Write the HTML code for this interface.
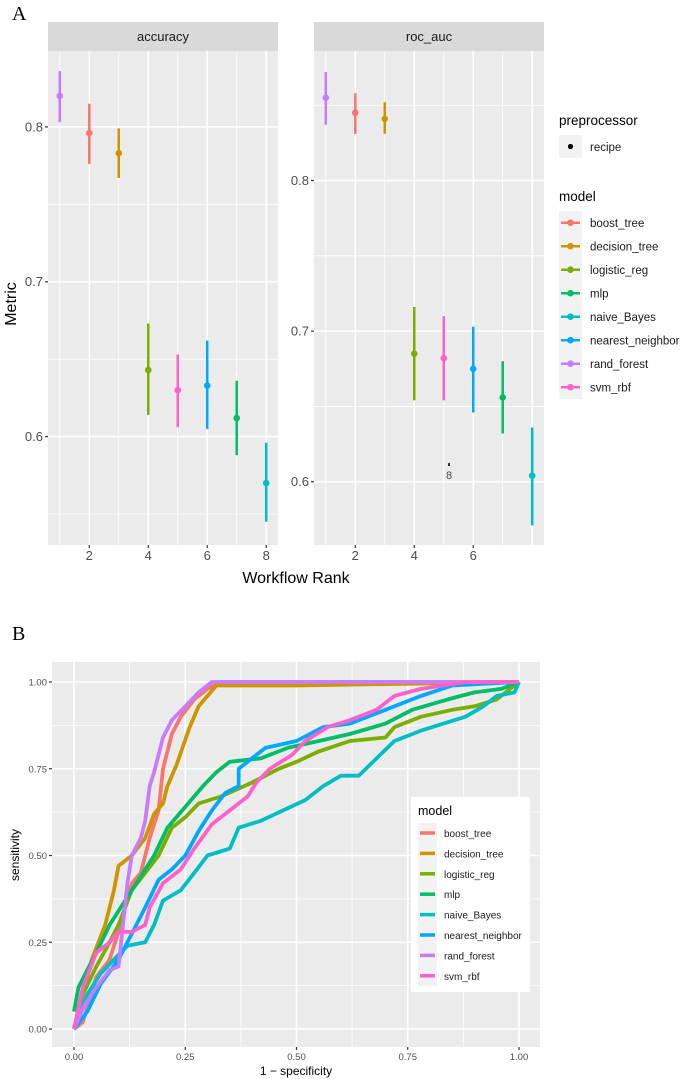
<!DOCTYPE html>
<html><head><meta charset="utf-8"><style>
body{margin:0;background:#fff;}
svg{display:block;font-family:"Liberation Sans",sans-serif;}
</style></head><body>
<svg id="s" width="685" height="1079" xmlns="http://www.w3.org/2000/svg">
<text x="12" y="20" font-family="Liberation Serif" font-size="20">A</text>
<text x="12" y="640" font-family="Liberation Serif" font-size="20">B</text>
<g id="ga"></g><g id="gb"></g>
</svg>
<script>
const NS="http://www.w3.org/2000/svg";
function mk(p,tag,at,txt){const e=document.createElementNS(NS,tag);for(const k in at)e.setAttribute(k,at[k]);if(txt!==undefined)e.textContent=txt;p.appendChild(e);return e;}
const models=["boost_tree","decision_tree","logistic_reg","mlp","naive_Bayes","nearest_neighbor","rand_forest","svm_rbf"];
const colors=["#F8766D","#CD9600","#7CAE00","#00BE67","#00BFC4","#00A9FF","#C77CFF","#FF61CC"];
const rankModels=["rand_forest","boost_tree","decision_tree","logistic_reg","svm_rbf","nearest_neighbor","mlp","naive_Bayes"];
const accMean=[0.820,0.796,0.783,0.643,0.630,0.633,0.612,0.570];
const accLow=[0.803,0.776,0.767,0.614,0.606,0.605,0.588,0.545];
const accHigh=[0.836,0.815,0.799,0.673,0.653,0.662,0.636,0.596];
const aucMean=[0.855,0.845,0.841,0.685,0.682,0.675,0.656,0.604];
const aucLow=[0.837,0.831,0.831,0.654,0.654,0.646,0.632,0.571];
const aucHigh=[0.872,0.858,0.852,0.716,0.710,0.703,0.680,0.636];
const accTicks=[0.6,0.7,0.8];
const aucTicks=[0.6,0.7,0.8];
const rankTicks=[2,4,6,8];

const ga=document.getElementById('ga');
function facet(x0,x1,title,yd,mean,low,high,ticks,xlabels,nm){
  const top=51,bot=545;
  const g=mk(ga,'g',{});
  
  
  const sx=r=>x0+(r-0.6)/(8.4-0.6)*(x1-x0);
  const sy=v=>bot-(v-yd[0])/(yd[1]-yd[0])*(bot-top);
  const st=mk(g,'rect',{x:x0,y:22,width:x1-x0,height:29,fill:'#D9D9D9'});
  
  mk(g,'text',{x:(x0+x1)/2,y:41,'text-anchor':'middle','font-size':13,fill:'#1A1A1A'},title);
  mk(g,'rect',{x:x0,y:top,width:x1-x0,height:bot-top,fill:'#EBEBEB'});
  for(let v=ticks[0]-0.05;v<=yd[1];v+=0.05){const y=sy(v);if(y<top||y>bot)continue;
    const maj=ticks.some(t=>Math.abs(t-v)<1e-6);
    mk(g,'line',{x1:x0,x2:x1,y1:y,y2:y,stroke:'#fff','stroke-width':maj?1.6:0.8});}
  for(let r=1;r<=8;r++){const x=sx(r);mk(g,'line',{x1:x,x2:x,y1:top,y2:bot,stroke:'#fff','stroke-width':r%2?0.8:1.6});}
  ticks.forEach(t=>{const y=sy(t);mk(g,'line',{x1:x0-3,x2:x0,y1:y,y2:y,stroke:'#333','stroke-width':1.2});
    const tl=mk(g,'text',{x:x0-5,y:y+4.5,'text-anchor':'end','font-size':13,fill:'#4D4D4D'},t.toFixed(1));
    });
  xlabels.forEach(t=>{const x=sx(t);mk(g,'line',{x1:x,x2:x,y1:bot,y2:bot+3,stroke:'#333','stroke-width':1.2});
    const tl=mk(g,'text',{x:x,y:bot+15,'text-anchor':'middle','font-size':13,fill:'#4D4D4D'},t);
    });
  mean.forEach((m,i)=>{const c=colors[models.indexOf(rankModels[i])];const x=sx(i+1);
    const l=mk(g,'line',{x1:x,x2:x,y1:sy(low[i]),y2:sy(high[i]),stroke:c,'stroke-width':2.5});
    
    const p=mk(g,'circle',{cx:x,cy:sy(m),r:3.3,fill:c});
    });
  return {sx,sy};
}
facet(48,278,'accuracy',[0.530,0.849],accMean,accLow,accHigh,accTicks,rankTicks,'accuracy');
facet(314,544,'roc_auc',[0.558,0.886],aucMean,aucLow,aucHigh,aucTicks,[2,4,6],'roc-auc');
mk(ga,'rect',{x:448,y:463,width:2,height:3,fill:'#333'});
mk(ga,'text',{x:449,y:479,'text-anchor':'middle','font-size':11,fill:'#4D4D4D'},'8');
let t=mk(ga,'text',{x:10,y:298,'font-size':16,'text-anchor':'middle',transform:'rotate(-90 16 298)',fill:'#000'},'Metric');

t=mk(ga,'text',{x:296,y:583,'font-size':16,'text-anchor':'middle',fill:'#000'},'Workflow Rank');

mk(ga,'text',{x:559,y:125,'font-size':13.5,fill:'#000'},'preprocessor');
mk(ga,'rect',{x:559,y:135,width:23,height:23,fill:'#F2F2F2'});
mk(ga,'circle',{cx:570.5,cy:146.5,r:2.6,fill:'#000'});
mk(ga,'text',{x:590,y:151,'font-size':11.5,fill:'#1A1A1A'},'recipe');
mk(ga,'text',{x:559,y:201,'font-size':13.5,fill:'#000'},'model');
models.forEach((m,i)=>{const y=211+i*23.5;
  const g=mk(ga,'g',{});
  
  mk(g,'rect',{x:559,y:y,width:23,height:23.5,fill:'#F2F2F2'});
  mk(g,'line',{x1:561,x2:580,y1:y+11.7,y2:y+11.7,stroke:colors[i],'stroke-width':2.5});
  mk(g,'circle',{cx:570.5,cy:y+11.7,r:3.3,fill:colors[i]});
  mk(g,'text',{x:590,y:y+16,'font-size':11.5,fill:'#1A1A1A'},m);});

const fpr_boost=[0,0.02,0.05,0.08,0.1,0.13,0.15,0.17,0.19,0.2,0.22,0.24,0.27,0.3,0.33,1];
const tpr_boost=[0,0.02,0.15,0.2,0.28,0.42,0.45,0.55,0.63,0.75,0.85,0.9,0.95,0.98,1,1];
const fpr_dt=[0,0.02,0.04,0.07,0.09,0.1,0.13,0.16,0.18,0.2,0.21,0.23,0.26,0.28,0.32,0.5,1];
const tpr_dt=[0,0.1,0.2,0.3,0.4,0.47,0.5,0.55,0.62,0.65,0.7,0.76,0.87,0.93,0.99,0.99,1];
const fpr_lr=[0,0.02,0.05,0.08,0.1,0.13,0.16,0.19,0.22,0.25,0.28,0.33,0.4,0.46,0.5,0.55,0.62,0.7,0.72,0.78,0.85,0.9,0.95,0.98,1];
const tpr_lr=[0,0.1,0.18,0.25,0.3,0.4,0.45,0.5,0.58,0.61,0.65,0.67,0.71,0.75,0.77,0.8,0.83,0.84,0.87,0.9,0.92,0.93,0.95,0.98,1];
const fpr_mlp=[0,0.01,0.03,0.05,0.08,0.1,0.12,0.15,0.18,0.21,0.25,0.29,0.32,0.35,0.42,0.48,0.55,0.62,0.7,0.76,0.84,0.9,0.96,1];
const tpr_mlp=[0.05,0.12,0.17,0.22,0.3,0.34,0.38,0.44,0.5,0.58,0.64,0.7,0.74,0.77,0.78,0.81,0.83,0.85,0.88,0.92,0.95,0.97,0.98,1];
const fpr_nb=[0,0.03,0.06,0.09,0.12,0.16,0.18,0.2,0.24,0.27,0.3,0.35,0.37,0.42,0.47,0.52,0.56,0.6,0.64,0.68,0.72,0.78,0.88,0.92,0.95,0.99,1];
const tpr_nb=[0,0.1,0.16,0.2,0.24,0.25,0.3,0.37,0.4,0.45,0.5,0.52,0.58,0.6,0.63,0.66,0.7,0.73,0.73,0.78,0.83,0.86,0.9,0.93,0.96,0.97,1];
const fpr_nn=[0,0.03,0.06,0.1,0.12,0.16,0.19,0.22,0.25,0.28,0.31,0.34,0.37,0.37,0.4,0.43,0.5,0.56,0.62,0.7,0.78,0.85,1];
const tpr_nn=[0,0.05,0.13,0.2,0.25,0.35,0.43,0.46,0.5,0.57,0.63,0.68,0.7,0.75,0.78,0.81,0.83,0.87,0.88,0.92,0.96,0.99,1];
const fpr_rf=[0,0.02,0.05,0.08,0.1,0.11,0.12,0.13,0.15,0.16,0.17,0.18,0.2,0.22,0.25,0.28,0.31,0.36,1];
const tpr_rf=[0,0.06,0.12,0.17,0.18,0.3,0.42,0.5,0.55,0.6,0.7,0.74,0.84,0.89,0.93,0.97,1,1,1];
const fpr_svm=[0,0.02,0.05,0.08,0.1,0.13,0.16,0.17,0.2,0.24,0.27,0.31,0.35,0.39,0.41,0.44,0.49,0.52,0.57,0.62,0.68,0.72,0.78,0.88,1];
const tpr_svm=[0,0.12,0.22,0.25,0.28,0.28,0.3,0.35,0.42,0.46,0.52,0.59,0.63,0.67,0.71,0.75,0.79,0.83,0.87,0.89,0.92,0.96,0.98,1,1];
const bTicks=[0,0.25,0.5,0.75,1];
const curveX=[fpr_boost,fpr_dt,fpr_lr,fpr_mlp,fpr_nb,fpr_nn,fpr_rf,fpr_svm];
const curveY=[tpr_boost,tpr_dt,tpr_lr,tpr_mlp,tpr_nb,tpr_nn,tpr_rf,tpr_svm];

const gb=document.getElementById('gb');
const L=52,R=540,T=662,B=1047;
const bx=v=>74+v*(519-74), by=v=>1029-v*(1029-682);
mk(gb,'rect',{x:L,y:T,width:R-L,height:B-T,fill:'#EBEBEB'});
for(let v=-0.125;v<=1.13;v+=0.125){const maj=Math.abs(v*4-Math.round(v*4))<1e-6;
  const x=bx(v),y=by(v);
  if(x>=L&&x<=R)mk(gb,'line',{x1:x,x2:x,y1:T,y2:B,stroke:'#fff','stroke-width':maj?1.6:0.8});
  if(y>=T&&y<=B)mk(gb,'line',{x1:L,x2:R,y1:y,y2:y,stroke:'#fff','stroke-width':maj?1.6:0.8});}
bTicks.forEach(v=>{
  mk(gb,'line',{x1:L-3,x2:L,y1:by(v),y2:by(v),stroke:'#333','stroke-width':1.2});
  let e=mk(gb,'text',{x:L-5,y:by(v)+3.5,'text-anchor':'end','font-size':9.5,fill:'#4D4D4D'},v.toFixed(2));
  
  mk(gb,'line',{x1:bx(v),x2:bx(v),y1:B,y2:B+3,stroke:'#333','stroke-width':1.2});
  e=mk(gb,'text',{x:bx(v),y:B+13,'text-anchor':'middle','font-size':9.5,fill:'#4D4D4D'},v.toFixed(2));
  });
curveX.forEach((xs,i)=>{const d=xs.map((x,j)=>(j?'L':'M')+bx(x).toFixed(1)+','+by(curveY[i][j]).toFixed(1)).join('');
  const p=mk(gb,'path',{d:d,fill:'none',stroke:colors[i],'stroke-width':3.8,'stroke-linejoin':'round'});
  });
t=mk(gb,'text',{x:296,y:1075,'font-size':12,'text-anchor':'middle',fill:'#000'},'1 − specificity');

t=mk(gb,'text',{x:19,y:855,'font-size':12,'text-anchor':'middle',transform:'rotate(-90 19 855)',fill:'#000'},'sensitivity');

const lg=mk(gb,'g',{});

mk(lg,'rect',{x:411,y:797,width:119,height:195,fill:'#fff'});
mk(lg,'text',{x:418,y:815,'font-size':12.5,fill:'#000'},'model');
models.forEach((m,i)=>{const y=823+i*20.4;
  const g=mk(lg,'g',{});
  
  mk(g,'rect',{x:418,y:y,width:19,height:20.4,fill:'#F2F2F2'});
  mk(g,'line',{x1:420,x2:435,y1:y+10,y2:y+10,stroke:colors[i],'stroke-width':3.5});
  mk(g,'text',{x:444,y:y+14,'font-size':10,fill:'#1A1A1A'},m);});
</script>
</body></html>
